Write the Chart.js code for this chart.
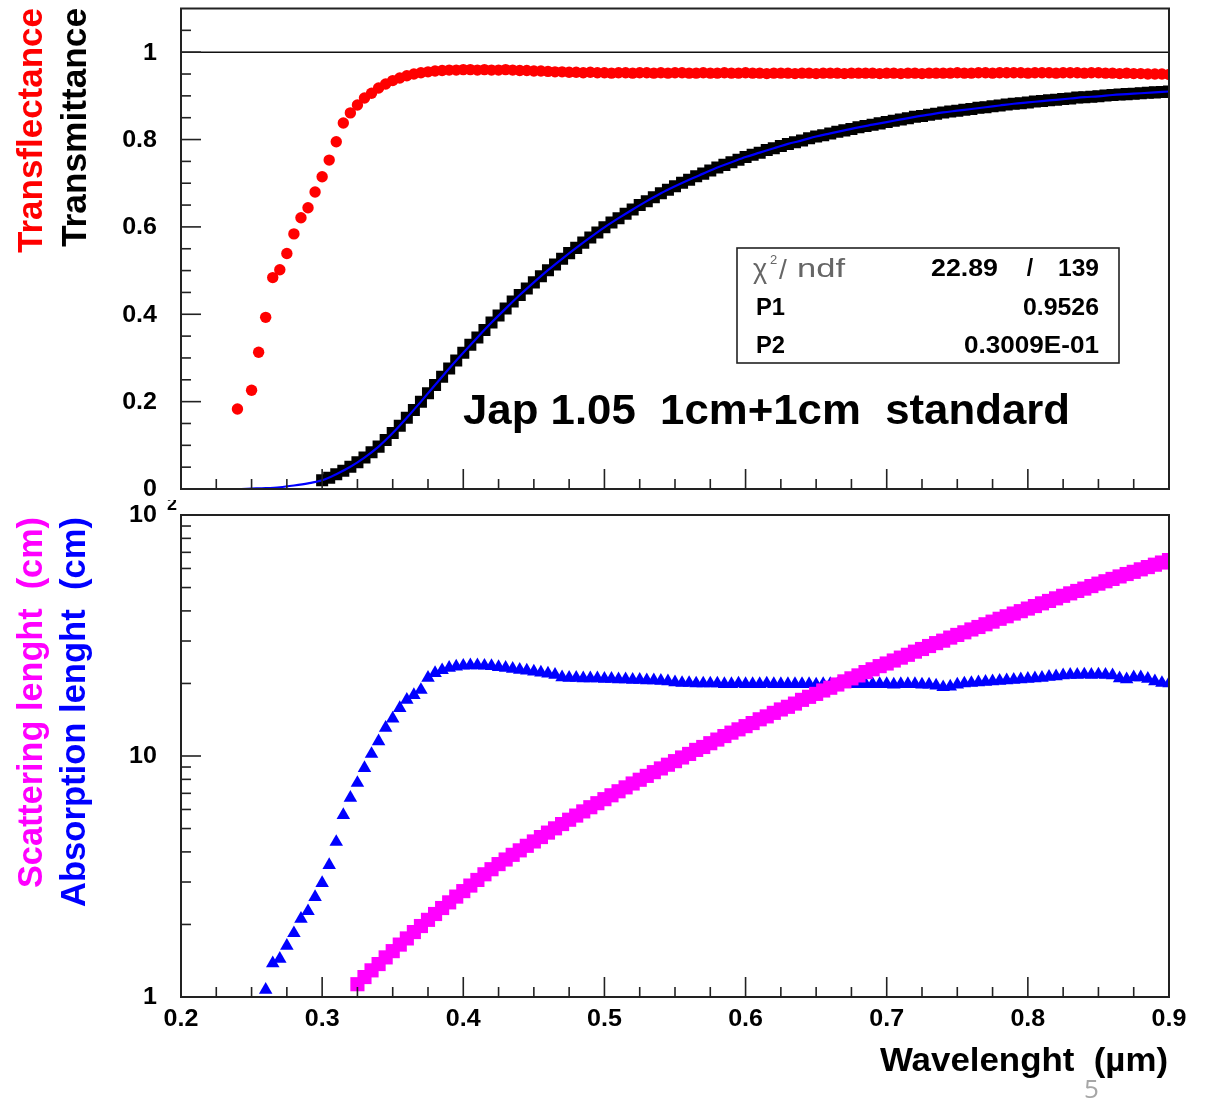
<!DOCTYPE html>
<html>
<head>
<meta charset="utf-8">
<title>Jap 1.05 1cm+1cm standard</title>
<script src="https://cdn.jsdelivr.net/npm/chart.js@4.4.1/dist/chart.umd.min.js"></script>
<style>
  html, body { margin: 0; padding: 0; background: #fff; }
  body { width: 1205px; height: 1101px; position: relative; overflow: hidden; }
  canvas { position: absolute; left: 0; }
  #transChart { top: 0; }
  #lengthChart { top: 500px; }
  .page-no { position: absolute; left: 1084px; top: 1070px; font: 26px "Open Sans", sans-serif; color: #a6a6a6; }
</style>
</head>
<body>
<canvas id="transChart" width="1205" height="500"></canvas>
<canvas id="lengthChart" width="1205" height="601"></canvas>
<div class="page-no">5</div>
<script>
// wavelength grid of the measured points (um)
const wavelength = [
  0.240, 0.245, 0.250, 0.255, 0.260, 0.265, 0.270, 0.275, 0.280, 0.285,
  0.290, 0.295, 0.300, 0.305, 0.310, 0.315, 0.320, 0.325, 0.330, 0.335,
  0.340, 0.345, 0.350, 0.355, 0.360, 0.365, 0.370, 0.375, 0.380, 0.385,
  0.390, 0.395, 0.400, 0.405, 0.410, 0.415, 0.420, 0.425, 0.430, 0.435,
  0.440, 0.445, 0.450, 0.455, 0.460, 0.465, 0.470, 0.475, 0.480, 0.485,
  0.490, 0.495, 0.500, 0.505, 0.510, 0.515, 0.520, 0.525, 0.530, 0.535,
  0.540, 0.545, 0.550, 0.555, 0.560, 0.565, 0.570, 0.575, 0.580, 0.585,
  0.590, 0.595, 0.600, 0.605, 0.610, 0.615, 0.620, 0.625, 0.630, 0.635,
  0.640, 0.645, 0.650, 0.655, 0.660, 0.665, 0.670, 0.675, 0.680, 0.685,
  0.690, 0.695, 0.700, 0.705, 0.710, 0.715, 0.720, 0.725, 0.730, 0.735,
  0.740, 0.745, 0.750, 0.755, 0.760, 0.765, 0.770, 0.775, 0.780, 0.785,
  0.790, 0.795, 0.800, 0.805, 0.810, 0.815, 0.820, 0.825, 0.830, 0.835,
  0.840, 0.845, 0.850, 0.855, 0.860, 0.865, 0.870, 0.875, 0.880, 0.885,
  0.890, 0.895, 0.900
];

const transflectance = [
  0.183, null, 0.226, 0.313, 0.393, 0.484, 0.502, 0.539, 0.584, 0.621,
  0.644, 0.680, 0.715, 0.753, 0.795, 0.838, 0.861, 0.879, 0.895, 0.906,
  0.918, 0.927, 0.935, 0.941, 0.946, 0.950, 0.953, 0.955, 0.957, 0.958,
  0.959, 0.959, 0.960, 0.960, 0.959, 0.960, 0.959, 0.959, 0.960, 0.959,
  0.958, 0.958, 0.957, 0.957, 0.956, 0.955, 0.955, 0.954, 0.954, 0.953,
  0.954, 0.953, 0.953, 0.952, 0.953, 0.953, 0.952, 0.953, 0.953, 0.952,
  0.953, 0.952, 0.953, 0.953, 0.952, 0.952, 0.953, 0.952, 0.952, 0.953,
  0.952, 0.952, 0.953, 0.952, 0.952, 0.951, 0.952, 0.952, 0.952, 0.951,
  0.952, 0.952, 0.951, 0.952, 0.952, 0.952, 0.951, 0.952, 0.952, 0.952,
  0.952, 0.951, 0.952, 0.952, 0.951, 0.952, 0.952, 0.951, 0.952, 0.952,
  0.952, 0.952, 0.953, 0.952, 0.952, 0.953, 0.953, 0.952, 0.953, 0.953,
  0.953, 0.953, 0.952, 0.953, 0.953, 0.953, 0.952, 0.953, 0.953, 0.953,
  0.952, 0.953, 0.953, 0.952, 0.952, 0.951, 0.952, 0.951, 0.951, 0.950,
  0.950, 0.950, 0.949
];

const transmittance = [
  null, null, null, null, null, null, null, null, null, null,
  null, null, 0.020, 0.026, 0.034, 0.042, 0.051, 0.061, 0.072, 0.084,
  0.097, 0.112, 0.128, 0.145, 0.163, 0.181, 0.200, 0.219, 0.238, 0.257,
  0.276, 0.294, 0.312, 0.330, 0.347, 0.364, 0.381, 0.397, 0.413, 0.429,
  0.444, 0.459, 0.473, 0.487, 0.501, 0.514, 0.527, 0.540, 0.552, 0.564,
  0.576, 0.587, 0.599, 0.610, 0.620, 0.630, 0.640, 0.650, 0.659, 0.668,
  0.677, 0.685, 0.693, 0.701, 0.708, 0.716, 0.722, 0.729, 0.736, 0.742,
  0.748, 0.754, 0.760, 0.765, 0.770, 0.776, 0.780, 0.785, 0.790, 0.794,
  0.798, 0.803, 0.807, 0.810, 0.814, 0.818, 0.821, 0.824, 0.828, 0.831,
  0.834, 0.837, 0.840, 0.843, 0.846, 0.849, 0.852, 0.854, 0.857, 0.859,
  0.862, 0.864, 0.866, 0.868, 0.870, 0.873, 0.874, 0.876, 0.878, 0.880,
  0.882, 0.883, 0.885, 0.887, 0.888, 0.890, 0.891, 0.893, 0.894, 0.896,
  0.897, 0.898, 0.899, 0.901, 0.902, 0.903, 0.904, 0.905, 0.906, 0.907,
  0.908, 0.909, 0.910
];

// fitted transmittance curve (P1, P2 in the stats box)
const fitWavelength = [
  0.20, 0.21, 0.22, 0.23, 0.24, 0.25, 0.26, 0.27, 0.28, 0.29,
  0.30, 0.31, 0.32, 0.33, 0.34, 0.35, 0.36, 0.37, 0.38, 0.39,
  0.40, 0.41, 0.42, 0.43, 0.44, 0.45, 0.46, 0.47, 0.48, 0.49,
  0.50, 0.51, 0.52, 0.53, 0.54, 0.55, 0.56, 0.57, 0.58, 0.59,
  0.60, 0.61, 0.62, 0.63, 0.64, 0.65, 0.66, 0.67, 0.68, 0.69,
  0.70, 0.71, 0.72, 0.73, 0.74, 0.75, 0.76, 0.77, 0.78, 0.79,
  0.80, 0.81, 0.82, 0.83, 0.84, 0.85, 0.86, 0.87, 0.88, 0.89,
  0.90
];
const fitTransmittance = [
  0.000, 0.000, 0.000, 0.000, 0.000, 0.001, 0.002, 0.004, 0.008, 0.013,
  0.020, 0.034, 0.051, 0.072, 0.097, 0.128, 0.163, 0.200, 0.238, 0.276,
  0.312, 0.347, 0.381, 0.413, 0.444, 0.473, 0.501, 0.527, 0.552, 0.576,
  0.599, 0.620, 0.640, 0.659, 0.677, 0.693, 0.708, 0.722, 0.736, 0.748,
  0.760, 0.770, 0.780, 0.790, 0.798, 0.807, 0.814, 0.821, 0.828, 0.834,
  0.840, 0.846, 0.852, 0.857, 0.862, 0.866, 0.870, 0.874, 0.878, 0.882,
  0.885, 0.888, 0.891, 0.894, 0.897, 0.899, 0.902, 0.904, 0.906, 0.908,
  0.910
];

const unityX = [0.2, 0.9];
const unityY = [1, 1];

// lengths in cm, same wavelength grid
const absorptionLength = [
  null, null, null, null, 1.07, 1.38, 1.44, 1.63, 1.84, 2.11,
  2.27, 2.60, 2.97, 3.53, 4.40, 5.69, 6.70, 7.73, 8.91, 10.2,
  11.5, 13.1, 14.3, 15.8, 17.1, 17.9, 18.8, 21.1, 22.1, 22.7,
  23.2, 23.5, 23.7, 23.8, 23.8, 23.7, 23.6, 23.4, 23.2, 23.0,
  22.8, 22.6, 22.4, 22.2, 22.0, 21.7, 21.2, 21.1, 21.1, 21.0,
  21.0, 21.0, 20.9, 20.9, 20.8, 20.8, 20.7, 20.7, 20.6, 20.6,
  20.5, 20.4, 20.2, 20.1, 20.1, 20.0, 20.0, 20.0, 20.0, 19.9,
  19.9, 20.0, 19.9, 19.9, 19.9, 20.0, 19.9, 19.9, 19.9, 19.9,
  19.9, 19.9, 19.8, 19.9, 19.9, 19.8, 19.9, 19.9, 19.9, 19.9,
  19.9, 19.9, 19.9, 19.8, 19.9, 19.9, 19.9, 19.8, 19.8, 19.6,
  19.3, 19.4, 19.8, 20.0, 20.1, 20.2, 20.3, 20.4, 20.5, 20.6,
  20.7, 20.8, 20.9, 21.0, 21.1, 21.3, 21.4, 21.6, 21.7, 21.7,
  21.8, 21.7, 21.8, 21.7, 21.6, 21.0, 20.8, 21.2, 21.2, 20.9,
  20.4, 20.1, 20.0
];

const scatteringLength = [
  null, null, null, null, null, null, null, null, null, null,
  null, null, null, null, null, null, null, 1.13, 1.21, 1.29,
  1.37, 1.46, 1.55, 1.65, 1.75, 1.86, 1.97, 2.09, 2.21, 2.34,
  2.47, 2.61, 2.75, 2.90, 3.06, 3.23, 3.39, 3.56, 3.72, 3.89,
  4.06, 4.24, 4.42, 4.61, 4.81, 5.01, 5.22, 5.44, 5.66, 5.89,
  6.13, 6.37, 6.62, 6.87, 7.14, 7.41, 7.69, 7.97, 8.27, 8.57,
  8.88, 9.20, 9.52, 9.86, 10.2, 10.6, 10.9, 11.3, 11.7, 12.1,
  12.5, 12.9, 13.3, 13.7, 14.2, 14.6, 15.1, 15.6, 16.0, 16.5,
  17.1, 17.6, 18.1, 18.7, 19.2, 19.8, 20.4, 21.0, 21.6, 22.3,
  22.9, 23.6, 24.2, 24.9, 25.6, 26.3, 27.1, 27.8, 28.6, 29.4,
  30.1, 31.0, 31.8, 32.6, 33.5, 34.3, 35.2, 36.1, 37.1, 38.0,
  39.0, 39.9, 40.9, 41.9, 43.0, 44.0, 45.1, 46.2, 47.3, 48.4,
  49.5, 50.7, 51.9, 53.1, 54.3, 55.6, 56.9, 58.1, 59.5, 60.8,
  62.2, 63.5, 65.0
];

// axis ticks
const xMajorTicks = [0.2, 0.3, 0.4, 0.5, 0.6, 0.7, 0.8, 0.9];
const xTickLabels = ['0.2', '0.3', '0.4', '0.5', '0.6', '0.7', '0.8', '0.9'];
const xMinorTicks = [
  0.225, 0.25, 0.275, 0.325, 0.35, 0.375, 0.425, 0.45, 0.475, 0.525, 0.55, 0.575,
  0.625, 0.65, 0.675, 0.725, 0.75, 0.775, 0.825, 0.85, 0.875
];
const transMajorTicks = [0, 0.2, 0.4, 0.6, 0.8, 1];
const transTickLabels = ['0', '0.2', '0.4', '0.6', '0.8', '1'];
const transMinorTicks = [
  0.05, 0.1, 0.15, 0.25, 0.3, 0.35, 0.45, 0.5, 0.55, 0.65, 0.7, 0.75, 0.85, 0.9, 0.95, 1.05
];
const lengthMajorTicks = [1, 10, 100];
const lengthTickLabels = ['1', '10', '10^2'];
const lengthMinorTicks = [2, 3, 4, 5, 6, 7, 8, 9, 20, 30, 40, 50, 60, 70, 80, 90];

const FAMILY = '"Liberation Sans", Arial, Helvetica, sans-serif';
const TICK_FONT = 'bold 23px ' + FAMILY;

function toPoints(xs, ys) {
  const pts = [];
  xs.forEach((x, i) => {
    if (ys[i] !== null) pts.push({ x, y: ys[i] });
  });
  return pts;
}

function tick(ctx, x1, y1, x2, y2) {
  ctx.beginPath();
  ctx.moveTo(x1, y1);
  ctx.lineTo(x2, y2);
  ctx.stroke();
}

// text helper: optional rotation, horizontal stretch or a fixed target width
function drawText(ctx, text, x, y, o) {
  ctx.save();
  ctx.translate(x, y);
  if (o.rotate) ctx.rotate(o.rotate);
  ctx.font = o.font;
  if (o.width) ctx.scale(o.width / ctx.measureText(text).width, 1);
  else if (o.stretch) ctx.scale(o.stretch, 1);
  ctx.fillStyle = o.color || '#000';
  ctx.textAlign = o.align || 'left';
  ctx.textBaseline = o.baseline || 'alphabetic';
  ctx.fillText(text, 0, 0);
  ctx.restore();
}

// ROOT-like frame: box, inward ticks, tick labels, then chart-specific extras
const rootFrame = {
  id: 'rootFrame',
  afterDatasetsDraw(chart, args, opts) {
    const { ctx, chartArea: a } = chart;
    const xs = chart.scales.x;
    const ys = chart.scales.y;
    ctx.save();
    ctx.strokeStyle = '#222';
    ctx.lineWidth = 2;
    ctx.strokeRect(a.left, a.top, a.right - a.left, a.bottom - a.top);

    ctx.lineWidth = 1.6;
    xMinorTicks.forEach(v => {
      const p = xs.getPixelForValue(v);
      tick(ctx, p, a.bottom, p, a.bottom - 10);
    });
    xMajorTicks.forEach(v => {
      const p = xs.getPixelForValue(v);
      tick(ctx, p, a.bottom, p, a.bottom - 20);
    });
    opts.yMinor.forEach(v => {
      const p = ys.getPixelForValue(v);
      tick(ctx, a.left, p, a.left + 10, p);
    });
    opts.yMajor.forEach(v => {
      const p = ys.getPixelForValue(v);
      tick(ctx, a.left, p, a.left + 20, p);
    });

    if (opts.xLabels) {
      xMajorTicks.forEach((v, i) => {
        drawText(ctx, xTickLabels[i], xs.getPixelForValue(v), a.bottom + 23,
          { font: TICK_FONT, stretch: 1.09, align: 'center', baseline: 'middle' });
      });
    }
    opts.yMajor.forEach((v, i) => {
      const p = ys.getPixelForValue(v);
      const [base, exp] = opts.yLabels[i].split('^');
      drawText(ctx, base, 157, p + 1, { font: TICK_FONT, stretch: 1.09, align: 'right', baseline: 'middle' });
      if (exp) drawText(ctx, exp, 167, p - 10, { font: 'bold 18px ' + FAMILY, align: 'left', baseline: 'middle' });
    });

    if (opts.extra) opts.extra(ctx, chart);
    ctx.restore();
  }
};

function drawTransExtras(ctx) {
  drawText(ctx, 'Transflectance', 42, 8,
    { rotate: -Math.PI / 2, font: 'bold 35px ' + FAMILY, width: 245, align: 'right', color: '#ff0000' });
  drawText(ctx, 'Transmittance', 86, 8,
    { rotate: -Math.PI / 2, font: 'bold 35px ' + FAMILY, width: 239, align: 'right', color: '#000' });

  drawText(ctx, 'Jap 1.05  1cm+1cm  standard', 463, 424,
    { font: 'bold 42px ' + FAMILY, width: 607 });

  // fit statistics box
  ctx.fillStyle = '#fff';
  ctx.fillRect(737, 248, 382, 115);
  ctx.strokeStyle = '#222';
  ctx.lineWidth = 1.6;
  ctx.strokeRect(737, 248, 382, 115);

  const statFont = 'bold 23px ' + FAMILY;
  drawText(ctx, '\u03c7', 753, 278, { font: '27px ' + FAMILY, color: '#666' });
  drawText(ctx, '2', 770, 264, { font: '13px ' + FAMILY, color: '#666' });
  drawText(ctx, '/', 779, 279, { font: '28px ' + FAMILY, color: '#666' });
  drawText(ctx, 'ndf', 797, 277, { font: '26px ' + FAMILY, width: 48, color: '#666' });
  drawText(ctx, '22.89', 998, 276, { font: statFont, width: 67, align: 'right' });
  drawText(ctx, '/', 1030, 276, { font: statFont, align: 'center' });
  drawText(ctx, '139', 1099, 276, { font: statFont, width: 41, align: 'right' });
  drawText(ctx, 'P1', 756, 315, { font: statFont, width: 29 });
  drawText(ctx, '0.9526', 1099, 315, { font: statFont, width: 76, align: 'right' });
  drawText(ctx, 'P2', 756, 353, { font: statFont, width: 29 });
  drawText(ctx, '0.3009E-01', 1099, 353, { font: statFont, width: 135, align: 'right' });
}

function drawLengthExtras(ctx) {
  drawText(ctx, 'Scattering lenght  (cm)', 42, 17,
    { rotate: -Math.PI / 2, font: 'bold 35px ' + FAMILY, width: 371, align: 'right', color: '#ff00ff' });
  drawText(ctx, 'Absorption lenght  (cm)', 85, 17,
    { rotate: -Math.PI / 2, font: 'bold 35px ' + FAMILY, width: 390, align: 'right', color: '#0000ff' });
  drawText(ctx, 'Wavelenght  (\u00b5m)', 1168, 571,
    { font: 'bold 33px ' + FAMILY, width: 288, align: 'right' });
}

const common = {
  responsive: false,
  animation: false,
  devicePixelRatio: 1,
  events: []
};

new Chart(document.getElementById('transChart'), {
  type: 'scatter',
  data: {
    datasets: [
      {
        label: 'Fit',
        data: toPoints(fitWavelength, fitTransmittance),
        showLine: true,
        pointRadius: 0,
        borderColor: '#0000ff',
        borderWidth: 2.2,
        tension: 0.4,
        cubicInterpolationMode: 'monotone',
        clip: 0
      },
      {
        label: 'Transmittance',
        data: toPoints(wavelength, transmittance),
        pointStyle: 'rect',
        pointRadius: 8.5,
        backgroundColor: '#000',
        borderColor: '#000',
        pointBorderWidth: 0,
        clip: 0
      },
      {
        label: 'Transflectance',
        data: toPoints(wavelength, transflectance),
        pointStyle: 'circle',
        pointRadius: 5.7,
        backgroundColor: '#ff0000',
        borderColor: '#ff0000',
        pointBorderWidth: 0,
        clip: 0
      },
      {
        label: 'T = 1',
        data: toPoints(unityX, unityY),
        showLine: true,
        pointRadius: 0,
        borderColor: '#111',
        borderWidth: 1.5,
        clip: 0
      }
    ]
  },
  options: Object.assign({}, common, {
    layout: { padding: { left: 181, right: 36, top: 7, bottom: 11 } },
    scales: {
      x: { type: 'linear', min: 0.2, max: 0.9, display: false },
      y: { type: 'linear', min: 0, max: 1.1, display: false }
    },
    plugins: {
      legend: { display: false },
      tooltip: { enabled: false },
      rootFrame: {
        yMajor: transMajorTicks,
        yMinor: transMinorTicks,
        yLabels: transTickLabels,
        xLabels: false,
        extra: drawTransExtras
      }
    }
  }),
  plugins: [rootFrame]
});

new Chart(document.getElementById('lengthChart'), {
  type: 'scatter',
  data: {
    datasets: [
      {
        label: 'Scattering lenght',
        data: toPoints(wavelength, scatteringLength),
        pointStyle: 'rect',
        pointRadius: 10,
        backgroundColor: '#ff00ff',
        borderColor: '#ff00ff',
        pointBorderWidth: 0,
        clip: 0
      },
      {
        label: 'Absorption lenght',
        data: toPoints(wavelength, absorptionLength),
        pointStyle: 'triangle',
        pointRadius: 7.8,
        backgroundColor: '#0000ff',
        borderColor: '#0000ff',
        pointBorderWidth: 0,
        clip: 0
      }
    ]
  },
  options: Object.assign({}, common, {
    layout: { padding: { left: 181, right: 36, top: 15, bottom: 104 } },
    scales: {
      x: { type: 'linear', min: 0.2, max: 0.9, display: false },
      y: { type: 'logarithmic', min: 1, max: 100, display: false }
    },
    plugins: {
      legend: { display: false },
      tooltip: { enabled: false },
      rootFrame: {
        yMajor: lengthMajorTicks,
        yMinor: lengthMinorTicks,
        yLabels: lengthTickLabels,
        xLabels: true,
        extra: drawLengthExtras
      }
    }
  }),
  plugins: [rootFrame]
});
</script>
</body>
</html>
